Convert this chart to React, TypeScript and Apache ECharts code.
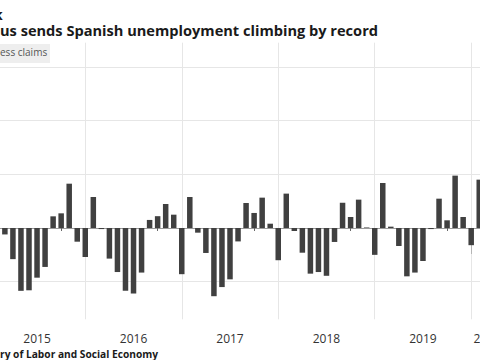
import React, { useEffect, useRef } from 'react';
import * as echarts from 'echarts';

// Monthly change in Spanish registered unemployment (jobless claims), Jan 2015 – Mar 2020
const years = ['2015', '2016', '2017', '2018', '2019', '2020'];
const claims2015 = [78000, -12000, -58000, -117000, -116000, -92500, -72500, 21700, 27300, 82500, -25500, -54000];
const claims2016 = [57700, -2000, -57000, -82000, -117000, -122000, -83000, 15000, 22000, 44700, 24800, -86000];
const claims2017 = [57700, -8700, -46500, -127000, -110000, -95600, -25000, 46500, 28000, 56500, 8000, -60000];
const claims2018 = [64000, -5600, -46000, -85000, -82000, -89000, -26000, 47000, 20500, 52800, 1000, -50000];
const claims2019 = [83800, 2500, -33500, -90000, -83000, -61500, -2000, 54600, 14300, 97500, 20500, -32000];
const claims2020 = [90000, -7800, 302000];
const gridValues = [-100000, 100000, 200000, 300000];

const titleText = 'us sends Spanish unemployment climbing by record';
const legendText = 'ess claims';
const sourceText = 'ry of Labor and Social Economy';

export default function App() {
  const ref = useRef<HTMLDivElement>(null);

  useEffect(() => {
    document.body.style.margin = '0';
    const chart = echarts.init(ref.current!, null, { renderer: 'svg' });
    const all = [claims2015, claims2016, claims2017, claims2018, claims2019, claims2020];
    // x value: months elapsed since 1 Jan 2015; each bar sits at its month's end
    const data: [number, number][] = [];
    all.forEach((arr, yi) => arr.forEach((v, mi) => data.push([yi * 12 + mi + 1, v])));
    const xMax = 72;
    const pxPerMonth = 8.04;
    const labelPos = years.map((_, i) => {
      const s = i * 12;
      const e = Math.min(s + 12, 64);
      return (s + e) / 2;
    });

    chart.setOption({
      animation: false,
      backgroundColor: '#ffffff',
      grid: {
        left: -11.2,
        width: xMax * pxPerMonth,
        top: 42.7,
        bottom: 40.7,
        containLabel: false,
        outerBoundsMode: 'none',
      },
      xAxis: {
        type: 'value',
        min: 0,
        max: xMax,
        interval: 12,
        axisLine: { show: true, lineStyle: { color: '#9a9a9a', width: 1 } },
        axisTick: { show: true, length: 26, lineStyle: { color: '#b5b5b5', width: 1 } },
        minorTick: { show: true, splitNumber: 4, length: 3, lineStyle: { color: '#666666', width: 1 } },
        splitLine: { show: true, lineStyle: { color: '#e6e6e6', width: 1 } },
        minorSplitLine: { show: false },
        axisLabel: {
          customValues: labelPos,
          formatter: (v: number) => years[Math.floor(v / 12)] ?? '',
          margin: 13,
          fontSize: 12,
          lineHeight: 12,
          color: '#333333',
          fontFamily: 'Open Sans',
        },
      },
      yAxis: {
        type: 'value',
        min: -170000,
        max: 345000,
        axisLine: { show: false },
        axisTick: { show: false },
        axisLabel: { show: false },
        splitLine: { show: false },
      },
      series: [
        {
          type: 'bar',
          name: 'Jobless claims',
          data,
          barWidth: 5.5,
          itemStyle: { color: '#404040' },
          z: 2,
          markLine: {
            silent: true,
            symbol: 'none',
            z: 1,
            label: { show: false },
            lineStyle: { color: '#e6e6e6', type: 'solid', width: 1 },
            data: gridValues.map((v) => ({ yAxis: v })),
          },
        },
      ],
      graphic: [
        {
          type: 'text',
          left: -6,
          top: 7,
          style: { text: 'k', font: 'bold 14px "Open Sans"', fill: '#1a1a1a' },
        },
        {
          type: 'text',
          left: 0,
          top: 22,
          style: { text: titleText, font: 'bold 14.6px "Open Sans"', fill: '#1a1a1a' },
        },
        {
          type: 'rect',
          left: 0,
          top: 44,
          shape: { width: 50, height: 19 },
          style: { fill: '#eeeeee' },
          z: 10,
        },
        {
          type: 'text',
          left: 0,
          top: 47,
          z: 11,
          style: { text: legendText, font: '10px "Open Sans"', fill: '#555555' },
        },
        {
          type: 'text',
          left: 0,
          top: 348.5,
          style: { text: sourceText, font: 'bold 10.2px "Open Sans"', fill: '#1a1a1a' },
        },
      ],
    });
    return () => chart.dispose();
  }, []);

  return (
    <div
      ref={ref}
      style={{ position: 'absolute', left: 0, top: 0, width: 480, height: 360, overflow: 'hidden', background: '#fff' }}
    />
  );
}
